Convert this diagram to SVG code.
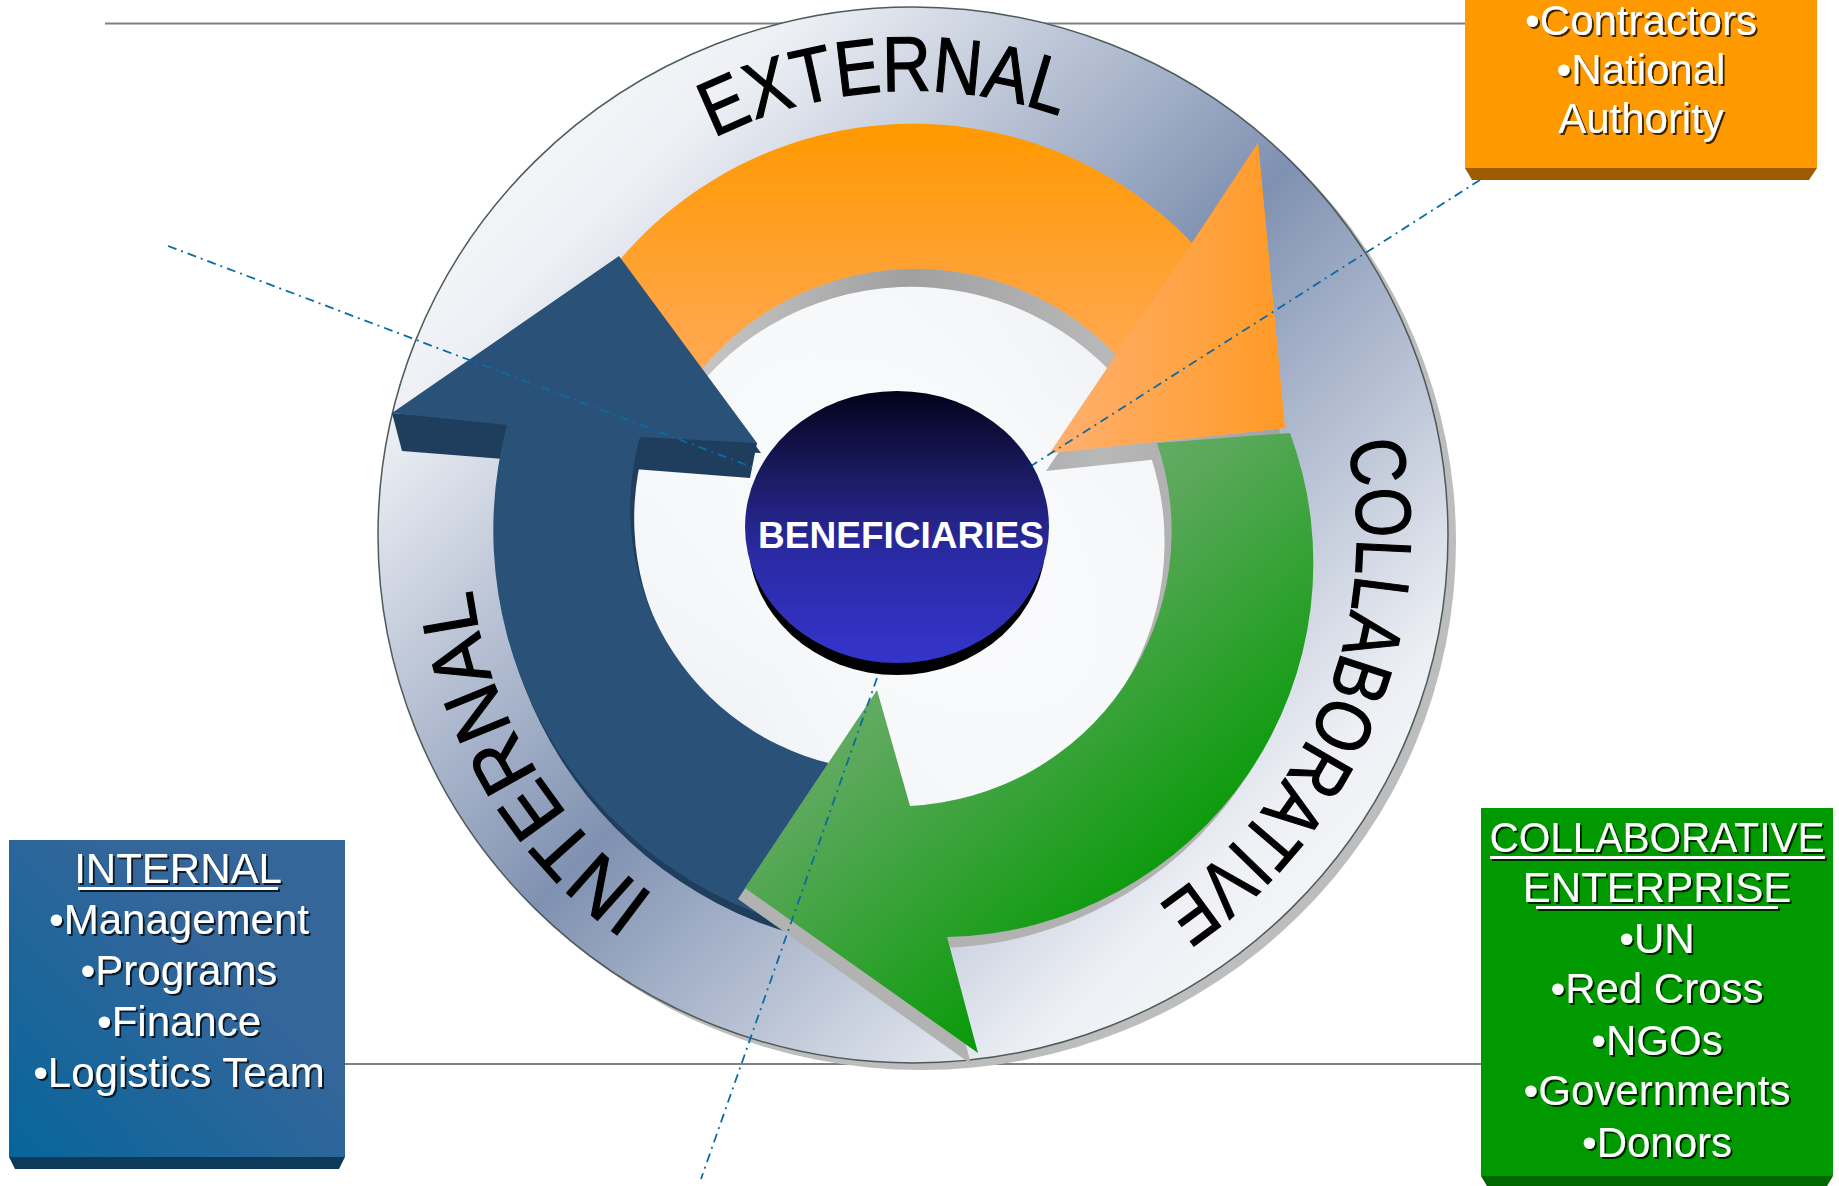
<svg xmlns="http://www.w3.org/2000/svg" xmlns:xlink="http://www.w3.org/1999/xlink" width="1839" height="1186" viewBox="0 0 1839 1186">
  <defs>
    <style>
      .boxtxt { font-family: "Liberation Sans", Arial, sans-serif; font-size: 42px; fill: #ffffff; text-anchor: middle; }
      .ringtxt { font-family: "Liberation Sans", Arial, sans-serif; font-size: 78px; fill: #000000; stroke: #000000; stroke-width: 1.2; text-anchor: middle; }
      .uline { stroke: #ffffff; stroke-width: 3; }
      .guide { stroke: #808080; stroke-width: 2; fill: none; }
      .dashdot { stroke: #0b6ba3; stroke-width: 1.8; fill: none; stroke-dasharray: 9 5 2 5; }
    </style>
    <filter id="txtShadow" x="-10%" y="-10%" width="130%" height="140%">
      <feDropShadow dx="2" dy="2" stdDeviation="0.7" flood-color="#000000" flood-opacity="0.75"/>
    </filter>
    <linearGradient id="ringGrad" x1="0" y1="0" x2="1" y2="1">
      <stop offset="0" stop-color="#ffffff"/>
      <stop offset="0.2" stop-color="#eef0f5"/>
      <stop offset="0.5" stop-color="#7f91b1"/>
      <stop offset="0.8" stop-color="#eef0f5"/>
      <stop offset="1" stop-color="#ffffff"/>
    </linearGradient>
    <radialGradient id="ringInner" cx="0.5" cy="0.5" r="0.5">
      <stop offset="0" stop-color="#ffffff" stop-opacity="1"/>
      <stop offset="0.52" stop-color="#ffffff" stop-opacity="0.88"/>
      <stop offset="0.72" stop-color="#ffffff" stop-opacity="0"/>
    </radialGradient>
    <linearGradient id="orangeGrad" gradientUnits="userSpaceOnUse" x1="0" y1="124" x2="0" y2="460">
      <stop offset="0" stop-color="#ff9900"/>
      <stop offset="0.5" stop-color="#ffa33a"/>
      <stop offset="1" stop-color="#ffb070"/>
    </linearGradient>
    <linearGradient id="orangeHead" gradientUnits="userSpaceOnUse" x1="1050" y1="0" x2="1285" y2="0">
      <stop offset="0" stop-color="#ffb070"/>
      <stop offset="1" stop-color="#ff9a25"/>
    </linearGradient>
    <linearGradient id="grayO" gradientUnits="userSpaceOnUse" x1="650" y1="0" x2="1300" y2="0">
      <stop offset="0" stop-color="#d0d0d0"/>
      <stop offset="0.4" stop-color="#a0a0a0"/>
      <stop offset="0.7" stop-color="#b8b8b8"/>
      <stop offset="1" stop-color="#a0a0a0"/>
    </linearGradient>
    <linearGradient id="greenGrad" gradientUnits="userSpaceOnUse" x1="900" y1="450" x2="1250" y2="850">
      <stop offset="0" stop-color="#7ab87a"/>
      <stop offset="0.4" stop-color="#5aa85a"/>
      <stop offset="1" stop-color="#009900"/>
    </linearGradient>
    <linearGradient id="benGrad" x1="0" y1="0" x2="0" y2="1">
      <stop offset="0" stop-color="#02021a"/>
      <stop offset="0.3" stop-color="#1a1a60"/>
      <stop offset="0.6" stop-color="#2a2aa4"/>
      <stop offset="1" stop-color="#3434cc"/>
    </linearGradient>
    <linearGradient id="blueBox" gradientUnits="userSpaceOnUse" x1="9" y1="1157" x2="220" y2="950">
      <stop offset="0" stop-color="#07659b"/>
      <stop offset="1" stop-color="#35669a"/>
    </linearGradient>
    <path id="orangeShape" d="M 565,345 A 385 385 0 0 1 1192,243 L 1258,143 L 1285,428 L 1050,453 L 1116,355 A 277 277 0 0 0 664,429 Z"/>
    <path id="blueShape" d="M 392,413 L 619,256 L 757,443 L 640,437 A 263 263 0 0 0 859,769 L 833,934 A 410 410 0 0 1 507,425 Z"/>
    <path id="greenShape" d="M 1157,443 L 1290,433 A 374 374 0 0 1 947,937 L 978,1053 L 745,888 L 877,690 L 910,806 A 275 275 0 0 0 1157,443 Z"/>
    <path id="ringPath" d="M 913,979 A 444 444 0 1 1 913,91 A 444 444 0 1 1 913,979"/>
  </defs>

  <rect x="0" y="0" width="1839" height="1186" fill="#ffffff"/>

  <g id="guides">
    <line class="guide" x1="105" y1="23.5" x2="1465" y2="23.5"/>
    <line class="guide" x1="345" y1="1064" x2="1481" y2="1064"/>
  </g>

  <g id="ring">
    <ellipse cx="921" cy="542" rx="535" ry="528" fill="#bdbdbd"/>
    <ellipse cx="913" cy="535" rx="535" ry="528" fill="url(#ringGrad)"/>
    <ellipse cx="913" cy="535" rx="535" ry="528" fill="url(#ringInner)" stroke="#4d5b5b" stroke-width="1.5"/>
    <text class="ringtxt"><textPath href="#ringPath" startOffset="1366" textLength="356" lengthAdjust="spacingAndGlyphs">EXTERNAL</textPath></text>
    <text class="ringtxt"><textPath href="#ringPath" startOffset="2264" textLength="530" lengthAdjust="spacingAndGlyphs">COLLABORATIVE</textPath></text>
    <text class="ringtxt"><textPath href="#ringPath" startOffset="459" textLength="367" lengthAdjust="spacingAndGlyphs">INTERNAL</textPath></text>
  </g>

  <g id="arrow-external">
    <use href="#orangeShape" transform="translate(-4,18)" fill="url(#grayO)"/>
    <use href="#orangeShape" fill="url(#orangeGrad)"/>
    <polygon points="1192,243 1258,143 1285,428 1050,453 1116,355" fill="url(#orangeHead)"/>
  </g>

  <g id="arrow-internal">
    <use href="#blueShape" transform="translate(4,10)" fill="#1f3d5c"/>
    <polygon points="392,413 757,443 750,478 402,451" fill="#1f3e5e"/>
    <use href="#blueShape" fill="#2a5278"/>
  </g>

  <g id="arrow-collaborative">
    <use href="#greenShape" transform="translate(-7,11)" fill="#b2b2b2"/>
    <use href="#greenShape" fill="url(#greenGrad)"/>
  </g>

  <g id="connectors">
    <line class="dashdot" x1="168" y1="246" x2="752" y2="467"/>
    <line class="dashdot" x1="1480" y1="180" x2="1031" y2="466"/>
    <line class="dashdot" x1="877" y1="678" x2="701" y2="1179"/>
  </g>

  <g id="beneficiaries">
    <ellipse cx="897" cy="539" rx="149" ry="136" fill="#000000"/>
    <ellipse cx="897" cy="527" rx="152" ry="136" fill="url(#benGrad)"/>
    <text x="901" y="548" font-family="Liberation Sans, Arial, sans-serif" font-size="37" font-weight="bold" fill="#ffffff" text-anchor="middle">BENEFICIARIES</text>
  </g>

  <g id="box-external">
    <rect x="1465" y="-2" width="352" height="170" fill="#ff9900"/>
    <polygon points="1465,168 1817,168 1809,180 1472,180" fill="#9e5b00"/>
    <g filter="url(#txtShadow)">
      <text class="boxtxt" x="1641" y="35">•Contractors</text>
      <text class="boxtxt" x="1641" y="84">•National</text>
      <text class="boxtxt" x="1641" y="133">Authority</text>
    </g>
  </g>

  <g id="box-internal">
    <rect x="9" y="840" width="336" height="317" fill="url(#blueBox)"/>
    <polygon points="9,1157 345,1157 339,1169 15,1169" fill="#0c3a58"/>
    <g filter="url(#txtShadow)">
      <text class="boxtxt" x="178" y="883">INTERNAL</text>
      <line class="uline" x1="78" y1="888.5" x2="278" y2="888.5"/>
      <text class="boxtxt" x="179" y="934">•Management</text>
      <text class="boxtxt" x="179" y="985">•Programs</text>
      <text class="boxtxt" x="179" y="1036">•Finance</text>
      <text class="boxtxt" x="179" y="1087">•Logistics Team</text>
    </g>
  </g>

  <g id="box-collaborative">
    <rect x="1481" y="808" width="352" height="368" fill="#009900"/>
    <polygon points="1481,1176 1833,1176 1827,1186 1487,1186" fill="#006600"/>
    <g filter="url(#txtShadow)">
      <text class="boxtxt" x="1657" y="852" textLength="335" lengthAdjust="spacingAndGlyphs">COLLABORATIVE</text>
      <line class="uline" x1="1490" y1="857.5" x2="1825" y2="857.5"/>
      <text class="boxtxt" x="1657" y="902">ENTERPRISE</text>
      <line class="uline" x1="1536" y1="907.5" x2="1778" y2="907.5"/>
      <text class="boxtxt" x="1657" y="953">•UN</text>
      <text class="boxtxt" x="1657" y="1003">•Red Cross</text>
      <text class="boxtxt" x="1657" y="1055">•NGOs</text>
      <text class="boxtxt" x="1657" y="1105">•Governments</text>
      <text class="boxtxt" x="1657" y="1157">•Donors</text>
    </g>
  </g>
</svg>
